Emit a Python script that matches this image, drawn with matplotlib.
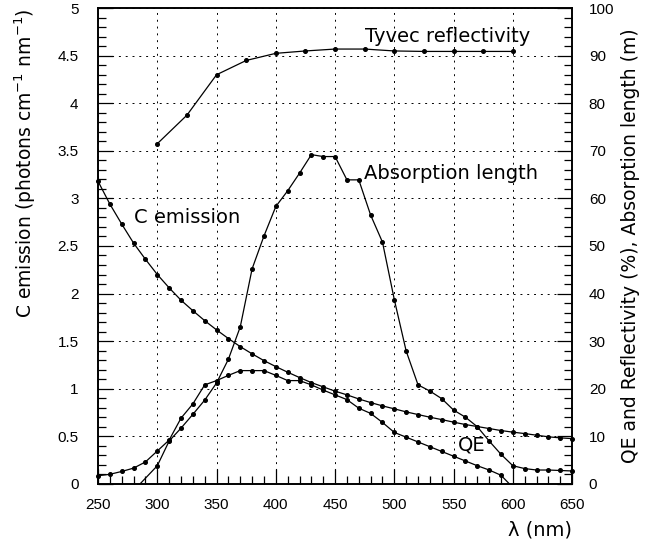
import numpy as np
import matplotlib.pyplot as plt
from matplotlib.ticker import MultipleLocator

plt.rcParams['font.family'] = ['Liberation Sans', 'DejaVu Sans']

# Cherenkov emission, left axis (photons cm^-1 nm^-1)
wl_c = [250, 260, 270, 280, 290, 300, 310, 320, 330, 340, 350, 360, 370, 380, 390,
        400, 410, 420, 430, 440, 450, 460, 470, 480, 490, 500, 510, 520, 530, 540,
        550, 560, 570, 580, 590, 600, 610, 620, 630, 640, 650]
c_emission = [3.18, 2.94, 2.73, 2.53, 2.36, 2.20, 2.06, 1.93, 1.82, 1.715, 1.618, 1.527,
              1.442, 1.366, 1.295, 1.232, 1.173, 1.117, 1.064, 1.019, 0.974, 0.935,
              0.892, 0.854, 0.819, 0.788, 0.756, 0.728, 0.700, 0.675, 0.648, 0.623,
              0.602, 0.581, 0.560, 0.543, 0.528, 0.511, 0.494, 0.483, 0.475]

# Tyvec reflectivity (%)
wl_tyvec = [300, 325, 350, 375, 400, 425, 450, 475, 500, 525, 550, 575, 600]
tyvec = [71.5, 77.5, 86.0, 89.0, 90.5, 91.0, 91.4, 91.4, 91.0, 90.9, 90.9, 90.9, 90.9]

# absorption length (m)
wl_abs = [300, 310, 320, 330, 340, 350, 360, 370, 380, 390, 400, 410, 420, 430, 440,
          450, 460, 470, 480, 490, 500, 510, 520, 530, 540, 550, 560, 570, 580, 590,
          600, 610, 620, 630, 640, 650]
absorption = [3.8, 9.0, 11.7, 14.6, 17.6, 21.2, 26.2, 33.0, 45.2, 52.1, 58.3, 61.6,
              65.3, 69.2, 68.8, 68.8, 63.9, 63.9, 56.5, 50.8, 38.7, 27.9, 20.8, 19.5,
              17.9, 15.5, 14.0, 12.0, 9.0, 6.2, 3.8, 3.2, 2.9, 2.9, 2.8, 2.7]
abs_start = ([285.5, 300], [0, 3.8])

# PMT quantum efficiency (%)
wl_qe = [250, 260, 270, 280, 290, 300, 310, 320, 330, 340, 350, 360, 370, 380, 390,
         400, 410, 420, 430, 440, 450, 460, 470, 480, 490, 500, 510, 520, 530, 540,
         550, 560, 570, 580, 590]
qe = [1.7, 2.0, 2.6, 3.3, 4.6, 6.9, 9.2, 13.8, 16.8, 20.8, 21.7, 22.8, 23.8, 23.8, 23.8,
      22.8, 21.7, 21.7, 20.8, 19.7, 18.7, 17.7, 15.9, 14.8, 12.9, 10.8, 9.8, 8.8, 7.8,
      6.8, 5.8, 4.8, 3.8, 2.9, 1.8]
qe_end = ([590, 597], [1.8, 0])

fig = plt.figure(figsize=(6.45, 5.43), dpi=100)
ax = fig.add_axes([0.152, 0.109, 0.735, 0.876])
ax2 = ax.twinx()

style = dict(color='black', lw=0.9, marker='o', ms=2.6)
ax.plot(wl_c, c_emission, clip_on=False, **style)
ax2.plot(wl_tyvec, tyvec, **style)
ax2.plot(wl_abs, absorption, clip_on=False, **style)
ax2.plot(*abs_start, color='black', lw=0.9)
ax2.plot(wl_qe, qe, clip_on=False, **style)
ax2.plot(*qe_end, color='black', lw=0.9)

ax.set_xlim(250, 650)
ax.set_ylim(0, 5)
ax2.set_ylim(0, 100)

ax.xaxis.set_major_locator(MultipleLocator(50))
ax.xaxis.set_minor_locator(MultipleLocator(10))
ax.yaxis.set_minor_locator(MultipleLocator(0.1))
ax2.yaxis.set_major_locator(MultipleLocator(10))
ax2.yaxis.set_minor_locator(MultipleLocator(2))

ax.set_yticks(np.arange(0, 5.01, 0.5))
ax.set_yticklabels(['0', '0.5', '1', '1.5', '2', '2.5', '3', '3.5', '4', '4.5', '5'])

ax.grid(True, which='major', linestyle=(0, (2, 5)), color='black', lw=0.7)

for a in (ax, ax2):
    a.tick_params(which='both', direction='in', labelsize=11, width=0.9)
    a.tick_params(which='major', length=11)
    a.tick_params(which='minor', length=6)
    for s in a.spines.values():
        s.set_linewidth(1.2)
ax.tick_params(axis='x', pad=10)
ax.tick_params(axis='y', pad=14)
ax2.tick_params(axis='y', pad=12)

ax.set_ylabel('C emission (photons cm$^{-1}$ nm$^{-1}$)', loc='top', labelpad=14,
              family='DejaVu Sans', fontsize=13.5)
ax2.set_ylabel('QE and Reflectivity (%), Absorption length (m)', labelpad=5,
               family='DejaVu Sans', fontsize=13.5)
ax.set_xlabel('λ (nm)', loc='right', labelpad=6, family='DejaVu Sans', fontsize=14)

txt = dict(family='DejaVu Sans', fontsize=14, va='center')
ax.text(475, 4.70, 'Tyvec reflectivity', **txt)
ax.text(474.5, 3.26, 'Absorption length', **txt)
ax.text(280, 2.80, 'C emission', **txt)
ax.text(554, 0.41, 'QE', **txt)

fig.savefig('out.png', dpi=100)
